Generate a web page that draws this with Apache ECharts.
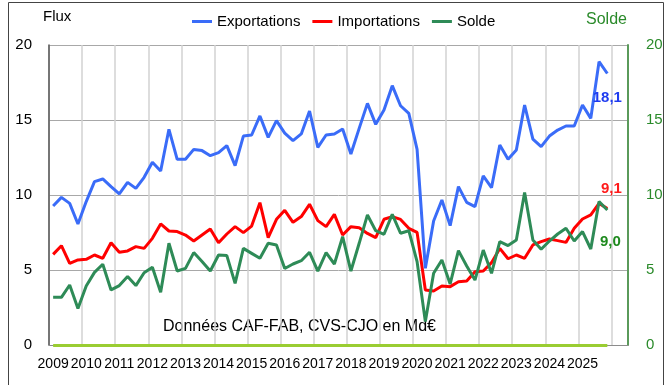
<!DOCTYPE html>
<html>
<head>
<meta charset="utf-8">
<script src="https://cdn.jsdelivr.net/npm/echarts@6/dist/echarts.min.js"></script>
<style>
  html, body { margin: 0; padding: 0; background: #fff; }
  #chart { width: 670px; height: 385px; }
</style>
</head>
<body>
<div id="chart"></div>
<script>
// Quarterly trade flows (Md€), 2009 Q1 onward
const years = [2009, 2010, 2011, 2012, 2013, 2014, 2015, 2016, 2017, 2018, 2019, 2020, 2021, 2022, 2023, 2024, 2025];

const exportations = [
  9.27, 9.84, 9.44, 8.07, 9.56, 10.89, 11.07, 10.56, 10.07, 10.84, 10.44, 11.18,
  12.18, 11.6, 14.38, 12.38, 12.38, 13.04, 12.96, 12.62, 12.82, 13.29, 11.96, 13.93,
  14.0, 15.27, 13.84, 14.96, 14.13, 13.62, 14.07, 15.6, 13.18, 14.0, 14.07, 14.4,
  12.73, 14.44, 16.11, 14.71, 15.67, 17.29, 15.95, 15.44, 13.04, 5.11, 8.27, 9.67,
  7.96, 10.56, 9.51, 9.22, 11.27, 10.49, 13.33, 12.38, 13.0, 16.0, 13.73, 13.22,
  13.93, 14.33, 14.6, 14.6, 16.0, 15.11, 18.89, 18.1
];

const importations = [
  6.04, 6.62, 5.44, 5.67, 5.71, 6.0, 5.78, 6.82, 6.18, 6.27, 6.56, 6.44,
  7.11, 8.07, 7.6, 7.56, 7.33, 6.93, 7.33, 7.73, 6.82, 7.4, 7.89, 7.49,
  7.93, 9.49, 7.16, 8.38, 8.98, 8.18, 8.56, 9.38, 8.29, 7.89, 8.71, 7.33,
  7.89, 7.82, 7.44, 7.16, 8.38, 8.56, 8.37, 7.78, 7.51, 3.67, 3.6, 3.93,
  3.89, 4.22, 4.27, 4.89, 4.93, 5.49, 6.44, 5.75, 6.0, 5.78, 6.67, 6.89,
  7.07, 6.96, 6.84, 7.78, 8.4, 8.67, 9.44, 9.1
];

const solde = [
  3.18, 3.18, 4.0, 2.44, 3.93, 4.84, 5.38, 3.67, 3.96, 4.56, 3.96, 4.82,
  5.18, 3.51, 6.78, 4.93, 5.11, 6.16, 5.56, 4.93, 6.0, 5.96, 4.11, 6.44,
  6.11, 5.78, 6.78, 6.67, 5.1, 5.4, 5.62, 6.18, 4.93, 6.16, 5.4, 7.22,
  4.93, 6.78, 8.67, 7.62, 7.38, 8.71, 7.45, 7.62, 5.56, 1.56, 4.78, 5.67,
  4.07, 6.29, 5.27, 4.33, 6.33, 4.78, 6.89, 6.63, 7.0, 10.16, 7.0, 6.38,
  6.93, 7.4, 7.78, 6.93, 7.56, 6.4, 9.56, 9.0
];

const fluxTicks = [0, 5, 10, 15, 20];

// Quarter categories; the axis runs two empty slots past the last quarter
const categories = [];
years.forEach(y => { for (let q = 1; q <= 4; q++) categories.push(y + 'T' + q); });
categories.push('', '');

const fmt = v => v.toFixed(1).replace('.', ',');

function withEndLabel(values, labelOpts) {
  const last = values.length - 1;
  return values.map((v, i) => i === last
    ? { value: v, label: Object.assign({ show: true, fontWeight: 'bold', fontSize: 15,
        fontFamily: 'Liberation Sans, Arial, sans-serif',
        formatter: p => fmt(p.value) }, labelOpts) }
    : v);
}

const chart = echarts.init(document.getElementById('chart'), null, { renderer: 'canvas' });
const font = 'Liberation Sans, Arial, sans-serif';

chart.setOption({
  animation: false,
  textStyle: { fontFamily: font },
  grid: { left: 49, right: 42, top: 45, bottom: 40, containLabel: false },
  legend: {
    left: 187, top: 9,
    itemWidth: 20, itemHeight: 3, itemGap: 12,
    icon: 'rect',
    textStyle: { fontSize: 15, color: '#000', fontFamily: font },
    data: ['Exportations', 'Importations', 'Solde']
  },
  graphic: [
    { type: 'rect', shape: { x: 8.5, y: 2.5, width: 655, height: 400 },
      style: { fill: 'none', stroke: '#444', lineWidth: 1 }, silent: true },
    { type: 'text', left: 43, top: 9,
      style: { text: 'Flux', fontSize: 15, fill: '#000', fontFamily: font } },
    { type: 'text', left: 586, top: 12,
      style: { text: 'Solde', fontSize: 16, fill: '#2a8a2a', fontFamily: font } },
    { type: 'text', left: 163, top: 319,
      style: { text: 'Données CAF-FAB, CVS-CJO en Md€', fontSize: 16, fill: '#000', fontFamily: font } }
  ],
  xAxis: {
    type: 'category',
    data: categories,
    boundaryGap: true,
    axisLine: { lineStyle: { color: '#8c8c8c', width: 1 } },
    axisTick: { show: false },
    axisLabel: {
      interval: 3, color: '#000', fontSize: 14, margin: 12,
      formatter: v => v.split('T')[0]
    },
    splitLine: { show: true, interval: 3, lineStyle: { color: '#d2d2d2', width: 1.5 } }
  },
  yAxis: [
    {
      type: 'value', min: fluxTicks[0], max: fluxTicks[fluxTicks.length - 1], interval: 5,
      axisLine: { show: true, lineStyle: { color: '#555', width: 1.5 } },
      axisTick: { show: false },
      axisLabel: { color: '#000', fontSize: 15, margin: 17 },
      splitLine: { show: true, lineStyle: { color: '#a8a8a8', width: 1 } }
    },
    {
      type: 'value', min: 0, max: 20, interval: 5, position: 'right',
      axisLine: { show: true, lineStyle: { color: '#5a9a5a', width: 2 } },
      axisTick: { show: false },
      axisLabel: { color: '#2a8a2a', fontSize: 15, margin: 18 },
      splitLine: { show: false }
    }
  ],
  series: [
    {
      name: 'Exportations', type: 'line', yAxisIndex: 0,
      data: withEndLabel(exportations, { position: 'bottom', distance: 17, color: '#1f3cf0' }),
      symbol: 'circle', symbolSize: 0, showSymbol: true, showAllSymbol: true,
      lineStyle: { color: '#3a6cf8', width: 3 }, itemStyle: { color: '#3a6cf8' },
      z: 4
    },
    {
      name: 'Importations', type: 'line', yAxisIndex: 0,
      data: withEndLabel(importations, { position: 'top', distance: 12, offset: [4, 0], color: '#ff1a1a' }),
      symbol: 'circle', symbolSize: 0, showSymbol: true, showAllSymbol: true,
      lineStyle: { color: '#ff0000', width: 3 }, itemStyle: { color: '#ff0000' },
      z: 3
    },
    {
      name: 'Solde', type: 'line', yAxisIndex: 1,
      data: withEndLabel(solde, { position: 'bottom', distance: 24, offset: [3, 0], color: '#1e8a1e' }),
      symbol: 'circle', symbolSize: 0, showSymbol: true, showAllSymbol: true,
      lineStyle: { color: '#2e8b57', width: 3 }, itemStyle: { color: '#2e8b57' },
      z: 5,
      markLine: {
        silent: true, symbol: 'none',
        label: { show: false },
        lineStyle: { color: '#9acd32', width: 3, type: 'solid' },
        data: [[{ xAxis: 0, yAxis: 0 }, { xAxis: solde.length - 1, yAxis: 0 }]]
      }
    }
  ]
});
</script>
</body>
</html>
